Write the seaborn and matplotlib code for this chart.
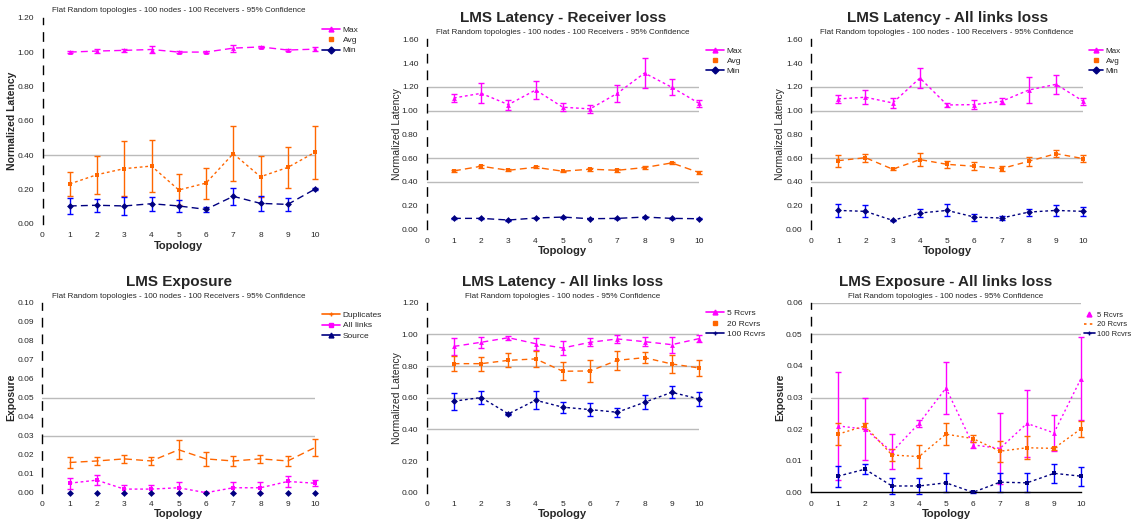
import matplotlib
matplotlib.use("Agg")
import matplotlib.pyplot as plt
import seaborn as sns
import pandas as pd
import numpy as np
from matplotlib.lines import Line2D

sns.set_theme(style="white")
plt.rcParams['font.family'] = ['Liberation Sans', 'DejaVu Sans']

# ---------------- data ----------------
topology = [1, 2, 3, 4, 5, 6, 7, 8, 9, 10]
x_ticks = [0, 1, 2, 3, 4, 5, 6, 7, 8, 9, 10]

# Panel 1: Normalized latency (no title visible)
p1_max = [1.00, 1.006, 1.01, 1.015, 1.00, 1.00, 1.023, 1.03, 1.012, 1.017]
p1_max_err = [0.005, 0.01, 0.008, 0.02, 0.004, 0.004, 0.02, 0.008, 0.008, 0.01]
p1_avg = [0.233, 0.287, 0.322, 0.337, 0.198, 0.238, 0.409, 0.275, 0.329, 0.417]
p1_avg_err = [0.07, 0.11, 0.16, 0.15, 0.09, 0.09, 0.16, 0.12, 0.12, 0.155]
p1_min = [0.105, 0.109, 0.105, 0.118, 0.105, 0.085, 0.161, 0.12, 0.114, 0.203]
p1_min_err = [0.046, 0.038, 0.05, 0.04, 0.035, 0.013, 0.05, 0.045, 0.037, 0.005]

# Panel 2: LMS Latency - Receiver loss
p2_max = [1.106, 1.145, 1.05, 1.173, 1.028, 1.014, 1.145, 1.316, 1.196, 1.061]
p2_max_err = [0.036, 0.085, 0.042, 0.077, 0.032, 0.035, 0.074, 0.13, 0.067, 0.03]
p2_avg = [0.492, 0.531, 0.497, 0.522, 0.489, 0.506, 0.497, 0.52, 0.559, 0.478]
p2_avg_err = [0.01, 0.012, 0.01, 0.01, 0.006, 0.012, 0.012, 0.012, 0.006, 0.01]
p2_min = [0.092, 0.092, 0.078, 0.095, 0.103, 0.089, 0.092, 0.103, 0.092, 0.089]
p2_min_err = [0.004, 0.004, 0.004, 0.004, 0.004, 0.004, 0.004, 0.004, 0.004, 0.004]

# Panel 3: LMS Latency - All links loss
p3_max = [1.098, 1.112, 1.064, 1.274, 1.047, 1.05, 1.078, 1.173, 1.221, 1.078]
p3_max_err = [0.034, 0.06, 0.043, 0.087, 0.02, 0.036, 0.025, 0.11, 0.08, 0.03]
p3_avg = [0.578, 0.603, 0.506, 0.587, 0.547, 0.531, 0.511, 0.573, 0.637, 0.595]
p3_avg_err = [0.05, 0.035, 0.01, 0.053, 0.032, 0.032, 0.022, 0.04, 0.03, 0.03]
p3_min = [0.159, 0.151, 0.075, 0.137, 0.159, 0.103, 0.095, 0.145, 0.159, 0.151]
p3_min_err = [0.056, 0.05, 0.005, 0.032, 0.05, 0.03, 0.017, 0.03, 0.048, 0.04]

# Panel 4: LMS Exposure
p4_dup = [0.0159, 0.0167, 0.0178, 0.0167, 0.0226, 0.0178, 0.0167, 0.0178, 0.0167, 0.0238]
p4_dup_err = [0.003, 0.0022, 0.002, 0.002, 0.005, 0.0035, 0.0026, 0.002, 0.0025, 0.0045]
p4_all = [0.005, 0.0066, 0.0019, 0.0019, 0.0026, 0.0, 0.0026, 0.0026, 0.0059, 0.005]
p4_all_err = [0.003, 0.0025, 0.002, 0.002, 0.003, 0.0003, 0.003, 0.003, 0.003, 0.0017]
p4_src = [0.0, 0.0, 0.0, 0.0, 0.0, 0.0, 0.0, 0.0, 0.0, 0.0]

# Panel 5: LMS Latency - All links loss (by receivers)
p5_r5 = [0.924, 0.95, 0.979, 0.941, 0.914, 0.95, 0.971, 0.954, 0.935, 0.973]
p5_r5_err = [0.055, 0.035, 0.013, 0.038, 0.046, 0.025, 0.027, 0.027, 0.05, 0.023]
p5_r20 = [0.815, 0.815, 0.836, 0.845, 0.767, 0.769, 0.836, 0.853, 0.813, 0.788]
p5_r20_err = [0.047, 0.045, 0.045, 0.05, 0.058, 0.072, 0.06, 0.035, 0.055, 0.05]
p5_r100 = [0.578, 0.601, 0.498, 0.584, 0.54, 0.525, 0.508, 0.571, 0.634, 0.592]
p5_r100_err = [0.054, 0.042, 0.008, 0.056, 0.035, 0.04, 0.03, 0.045, 0.037, 0.045]

# Panel 6: LMS Exposure - All links loss (by receivers)
p6_r5 = [0.021, 0.020, 0.0128, 0.0218, 0.033, 0.015, 0.0139, 0.0218, 0.0188, 0.036]
p6_r5_err = [0.017, 0.0097, 0.0055, 0.001, 0.0083, 0.001, 0.0113, 0.0106, 0.0056, 0.013]
p6_r20 = [0.0184, 0.021, 0.0118, 0.0113, 0.0184, 0.017, 0.013, 0.0141, 0.0139, 0.0201]
p6_r20_err = [0.0035, 0.001, 0.002, 0.0037, 0.0034, 0.001, 0.0033, 0.0036, 0.0005, 0.0026]
p6_r100 = [0.0051, 0.0073, 0.002, 0.002, 0.003, 0.0, 0.0032, 0.003, 0.006, 0.0051]
p6_r100_err = [0.0033, 0.0015, 0.0025, 0.0025, 0.003, 0.0002, 0.003, 0.003, 0.003, 0.003]

SUB_A = "Flat Random topologies - 100 nodes - 100 Receivers - 95% Confidence"
SUB_B = "Flat Random topologies - 100 nodes - 95% Confidence"

MAG = "#FF00FF"
ORA = "#FF6600"
NAV = "#000080"
BLU = "#0000FF"

W, H = 1136, 520
fig = plt.figure(figsize=(W / 100, H / 100), dpi=100)


def px_axes(left, top, right, bottom):
    return fig.add_axes([left / W, 1 - bottom / H, (right - left) / W, (bottom - top) / H])


def draw_series(ax, y, err, label, color, ecolor, marker, ls, show_line=True):
    df = pd.DataFrame({"Topology": topology, "value": y})
    sns.lineplot(data=df, x="Topology", y="value", ax=ax, color=color,
                 linestyle=ls if show_line else "none", linewidth=1.0,
                 marker=marker, markersize=3.5, markeredgewidth=0,
                 label=label, legend=False, clip_on=False, zorder=3)
    if err is not None:
        ax.errorbar(topology, y, yerr=err, fmt="none", ecolor=ecolor,
                    elinewidth=1.0, capsize=2.5, capthick=1.0, clip_on=False, zorder=2)


def style_axes(ax, ymax, ystep, grid_vals, ylabel, ylabel_bold, title, subtitle,
               ylabel_x, fmt="{:.2f}", bottom_spine=False):
    ax.set_xlim(0, 10)
    ax.set_ylim(0, ymax)
    ax.set_xticks(x_ticks)
    ax.set_xticklabels([str(t) for t in x_ticks], fontsize=6)
    yt = [round(i * ystep, 4) for i in range(int(round(ymax / ystep)) + 1)]
    ax.set_yticks(yt)
    ax.set_yticklabels([fmt.format(v) for v in yt], fontsize=6)
    ax.tick_params(axis="both", length=0, pad=6)
    for g in grid_vals:
        ax.axhline(g, color="#BBBBBB", linewidth=1.0, zorder=0)
    for s in ["top", "right"]:
        ax.spines[s].set_visible(False)
    ax.spines["bottom"].set_visible(bottom_spine)
    ax.spines["bottom"].set_color("black")
    ax.spines["bottom"].set_linewidth(1.0)
    ax.spines["left"].set_color("black")
    ax.spines["left"].set_linewidth(1.0)
    ax.spines["left"].set_linestyle((0, (6, 6)))
    ax.set_xlabel("Topology", fontsize=8, fontweight="bold", labelpad=1)
    ax.set_ylabel(ylabel, fontsize=7.5, fontweight="bold" if ylabel_bold else "normal")
    ax.yaxis.set_label_coords(ylabel_x, 0.5)
    if title:
        ax.text(0.5, 1.11, title, transform=ax.transAxes, ha="center", va="center",
                fontsize=11, fontweight="bold")
    ax.text(0.5, 1.035, subtitle, transform=ax.transAxes, ha="center", va="center",
            fontsize=5.8)
    ax.set_facecolor("white")


def add_legend(ax, entries, x, y, fs=6, hl=2.2):
    handles = []
    for lab, col, mk, line in entries:
        handles.append(Line2D([0], [0], color=col, linestyle="-" if line else "none",
                              marker=mk, markersize=3.5, linewidth=1.2, label=lab))
    ax.legend(handles=handles, loc="upper left", bbox_to_anchor=(x, y),
              bbox_transform=ax.transAxes, frameon=False, fontsize=fs,
              handlelength=hl, handletextpad=0.3, labelspacing=0.3, borderaxespad=0,
              borderpad=0)


# ---- Panel 1
ax1 = px_axes(42.5, 17.7, 315, 224)
draw_series(ax1, p1_max, p1_max_err, "Max", MAG, MAG, "^", (0, (5, 3)))
draw_series(ax1, p1_avg, p1_avg_err, "Avg", ORA, ORA, "s", (0, (2, 2)))
draw_series(ax1, p1_min, p1_min_err, "Min", NAV, BLU, "D", (0, (5, 3)))
style_axes(ax1, 1.2, 0.2, [0.4], "Normalized Latency", True, None, SUB_A, -0.094)
add_legend(ax1, [("Max", MAG, "^", True), ("Avg", ORA, "s", False), ("Min", NAV, "D", True)],
           1.025, 0.96)

# ---- Panel 2
ax2 = px_axes(426.7, 39.3, 699, 229.3)
draw_series(ax2, p2_max, p2_max_err, "Max", MAG, MAG, "^", (0, (2, 2)))
draw_series(ax2, p2_avg, p2_avg_err, "Avg", ORA, ORA, "s", (0, (5, 3)))
draw_series(ax2, p2_min, p2_min_err, "Min", NAV, BLU, "D", (0, (5, 3)))
style_axes(ax2, 1.6, 0.2, [1.2, 1.0, 0.6, 0.4], "Normalized Latency", False,
           "LMS Latency - Receiver loss", SUB_A, -0.091)
add_legend(ax2, [("Max", MAG, "^", True), ("Avg", ORA, "s", False), ("Min", NAV, "D", True)],
           1.025, 0.96)

# ---- Panel 3
ax3 = px_axes(811, 39.3, 1083.3, 229.3)
draw_series(ax3, p3_max, p3_max_err, "Max", MAG, MAG, "^", (0, (2, 2)))
draw_series(ax3, p3_avg, p3_avg_err, "Avg", ORA, ORA, "s", (0, (4, 3)))
draw_series(ax3, p3_min, p3_min_err, "Min", NAV, BLU, "D", (0, (2, 2)))
style_axes(ax3, 1.6, 0.2, [1.2, 1.0, 0.6, 0.4], "Normalized Latency", False,
           "LMS Latency - All links loss", SUB_A, -0.096)
add_legend(ax3, [("Max", MAG, "^", True), ("Avg", ORA, "s", False), ("Min", NAV, "D", True)],
           1.02, 0.96, fs=5.8, hl=1.8)

# ---- Panel 4
ax4 = px_axes(42.3, 302.7, 315, 492.7)
draw_series(ax4, p4_dup, p4_dup_err, "Duplicates", ORA, ORA, "+", (0, (5, 3)))
draw_series(ax4, p4_all, p4_all_err, "All links", MAG, MAG, "s", (0, (2, 2)))
draw_series(ax4, p4_src, None, "Source", NAV, NAV, "D", "-", show_line=False)
style_axes(ax4, 0.10, 0.01, [0.05, 0.03], "Exposure", True,
           "LMS Exposure", SUB_A, -0.094)
add_legend(ax4, [("Duplicates", ORA, "+", True), ("All links", MAG, "s", True),
                 ("Source", NAV, "^", True)], 1.025, 0.955)

# ---- Panel 5
ax5 = px_axes(426.7, 302.7, 699, 492.7)
draw_series(ax5, p5_r5, p5_r5_err, "5 Rcvrs", MAG, MAG, "^", (0, (4, 3)))
draw_series(ax5, p5_r20, p5_r20_err, "20 Rcvrs", ORA, ORA, "s", (0, (4, 3)))
draw_series(ax5, p5_r100, p5_r100_err, "100 Rcvrs", NAV, BLU, "D", (0, (2, 2)))
style_axes(ax5, 1.2, 0.2, [1.0, 0.8, 0.6, 0.4], "Normalized Latency", False,
           "LMS Latency - All links loss", SUB_B, -0.091)
add_legend(ax5, [("5 Rcvrs", MAG, "^", True), ("20 Rcvrs", ORA, "s", False),
                 ("100 Rcvrs", NAV, "+", True)], 1.025, 0.965)

# ---- Panel 6
ax6 = px_axes(811, 302.7, 1081, 492.3)
draw_series(ax6, p6_r5, p6_r5_err, "5 Rcvrs", MAG, MAG, "^", (0, (1.5, 2)))
draw_series(ax6, p6_r20, p6_r20_err, "20 Rcvrs", ORA, ORA, "s", (0, (1.5, 2)))
draw_series(ax6, p6_r100, p6_r100_err, "100 Rcvrs", NAV, BLU, "s", (0, (2, 2)))
style_axes(ax6, 0.06, 0.01, [0.06, 0.05, 0.03], "Exposure", True,
           "LMS Exposure - All links loss", SUB_B, -0.096, bottom_spine=True)
add_legend(ax6, [("5 Rcvrs", MAG, "^", False), ("20 Rcvrs", ORA, None, True),
                 ("100 Rcvrs", NAV, "+", True)], 1.01, 0.955, fs=5.5, hl=1.5)
ax6.get_legend().get_lines()[1].set_linestyle((0, (1.5, 2)))

fig.savefig("out.png", dpi=100, facecolor="white")
